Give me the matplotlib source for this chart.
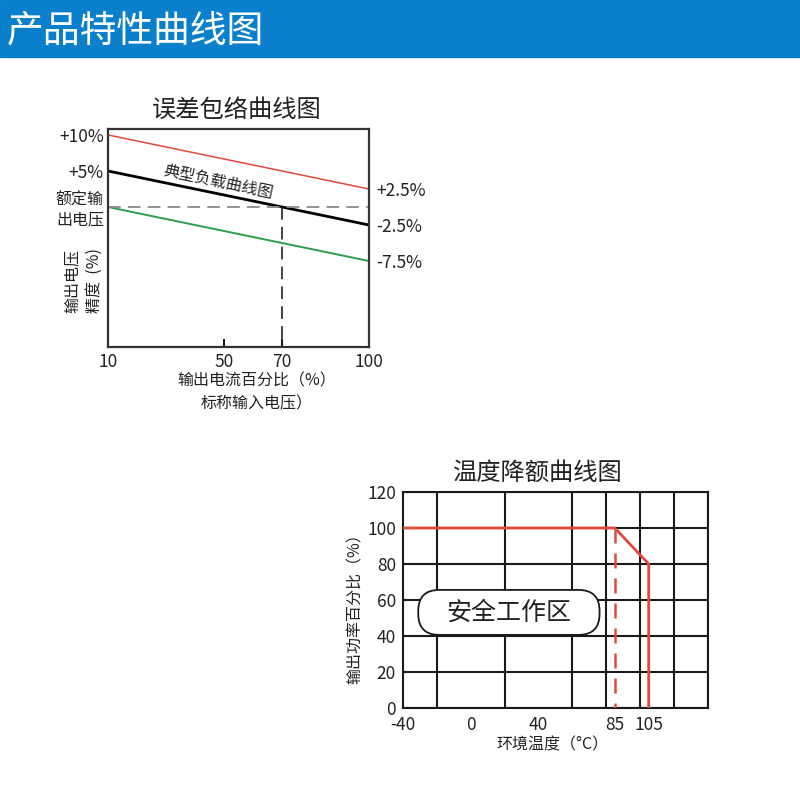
import matplotlib
matplotlib.use('Agg')
import matplotlib.pyplot as plt
from matplotlib.patches import Rectangle, FancyBboxPatch

plt.rcParams['font.family'] = ['Noto Sans CJK SC', 'DejaVu Sans']

# ---- data: 误差包络曲线图 ----
load_x = [10, 100]
upper_y = [10, 2.5]      # red
typical_y = [5, -2.5]    # black
lower_y = [0, -7.5]      # green
rated_x = 70
load_ticks = [10, 50, 70, 100]
left_ticks = [10, 5, 0]
left_labels = ['+10%', '+5%', '额定输\n出电压']
right_ticks = [2.5, -2.5, -7.5]
right_labels = ['+2.5%', '-2.5%', '-7.5%']

# ---- data: 温度降额曲线图 ----
temp_x = [-40, 85, 105, 105]
power_y = [100, 100, 80, 0]
derate_start = 85
temp_ticks = [-40, 0, 40, 85, 105]
grid_x = list(range(-40, 141, 20))
power_ticks = list(range(0, 121, 20))

RED = '#e0493b'
GREEN = '#2e9e4a'
TXT = '#222222'

fig = plt.figure(figsize=(8, 8), dpi=100)

# header bar
fig.patches.append(Rectangle((0, 1 - 57 / 800), 1, 57 / 800,
                             transform=fig.transFigure, color='#0a80cc', zorder=0))
fig.text(7 / 800, 1 - 31 / 800, '产品特性曲线图', color='white', fontsize=26.5,
         va='center', ha='left')

# ---------------- chart 1 ----------------
ax1 = fig.add_axes([108 / 800, 1 - 347 / 800, 261 / 800, 218 / 800])
ax1.set_xlim(10, 100)
ax1.set_ylim(-19.44, 10.83)
ax1.plot(load_x, upper_y, color=RED, lw=1.1)
ax1.plot(load_x, typical_y, color='black', lw=2)
ax1.plot(load_x, lower_y, color=GREEN, lw=1.4)
ax1.axhline(0, color='#8a8a8a', lw=1.3, dashes=(7, 4))
ax1.plot([rated_x, rated_x], [0, -20], color='#333333', lw=1.3, dashes=(7, 4))

for s in ax1.spines.values():
    s.set_color('#333333')
    s.set_linewidth(1.6)

ax1.set_xticks(load_ticks)
ax1.set_xticklabels([str(t) for t in load_ticks])
ax1.tick_params(axis='x', direction='in', length=6, width=1.3, pad=4,
                labelsize=12.5, labelcolor=TXT)
ax1.set_yticks(left_ticks)
ax1.set_yticklabels(left_labels)
ax1.tick_params(axis='y', length=0, pad=3, labelsize=11.5, labelcolor=TXT)
for lab in ax1.get_yticklabels()[:2]:
    lab.set_fontsize(12.5)

ax1r = ax1.twinx()
ax1r.set_ylim(ax1.get_ylim())
ax1r.set_yticks(right_ticks)
ax1r.set_yticklabels(right_labels)
ax1r.tick_params(axis='y', length=0, pad=5, labelsize=12.5, labelcolor=TXT)
for s in ax1r.spines.values():
    s.set_visible(False)

ax1.text(0.494, 1.087, '误差包络曲线图', transform=ax1.transAxes, ha='center',
         va='center', fontsize=17.5, color=TXT)
ax1.text(48, 3.5, '典型负载曲线图', rotation=-12, ha='center', va='center',
         fontsize=11.5, color=TXT)
ax1.text(-0.095, 0.305, '输出电压\n精度  (%)', transform=ax1.transAxes,
         rotation=90, ha='center', va='center', multialignment='left',
         fontsize=11.5, color=TXT, linespacing=1.4)
ax1.text(0.57, -0.118, '输出电流百分比（%）\n标称输入电压）', transform=ax1.transAxes,
         ha='center', va='top', multialignment='center', fontsize=11.5,
         color=TXT, linespacing=1.45)

# ---------------- chart 2 ----------------
ax2 = fig.add_axes([403 / 800, 1 - 708 / 800, 305 / 800, 216 / 800])
ax2.set_xlim(-40, 140)
ax2.set_ylim(0, 120)
ax2.set_xticks(grid_x, minor=True)
ax2.set_xticks(temp_ticks)
ax2.set_xticklabels([str(t) for t in temp_ticks])
ax2.set_yticks(power_ticks)
ax2.set_yticklabels([str(t) for t in power_ticks])
ax2.grid(which='minor', axis='x', color='#1a1a1a', lw=1.5)
ax2.grid(which='major', axis='y', color='#1a1a1a', lw=1.5)
ax2.tick_params(which='both', length=0)
ax2.tick_params(axis='x', pad=6, labelsize=12.5, labelcolor=TXT)
ax2.tick_params(axis='y', pad=5, labelsize=12.5, labelcolor=TXT)
for s in ax2.spines.values():
    s.set_color('#1a1a1a')
    s.set_linewidth(1.5)
ax2.set_axisbelow(True)

ax2.plot(temp_x, power_y, color=RED, lw=2, zorder=4)
ax2.plot([derate_start, derate_start], [power_y[1], 0], color=RED, lw=1.8,
         dashes=(6, 4), zorder=4)

box = FancyBboxPatch((-31, 40.6), 107, 25, boxstyle='round,pad=0,rounding_size=12.4',
                     mutation_aspect=0.94, fc='white', ec='#1a1a1a', lw=1.3, zorder=3)
ax2.add_patch(box)
ax2.text(22.5, 53, '安全工作区', ha='center', va='center', fontsize=18,
         color=TXT, zorder=5)

ax2.text(0.44, 1.088, '温度降额曲线图', transform=ax2.transAxes, ha='center',
         va='center', fontsize=17.5, color=TXT)
ax2.text(-0.157, 0.48, '输出功率百分比（%）', transform=ax2.transAxes, rotation=90,
         ha='center', va='center', fontsize=11.5, color=TXT)
ax2.text(0.49, -0.134, '环境温度（°C）', transform=ax2.transAxes, ha='center',
         va='top', fontsize=11.5, color=TXT)

fig.savefig('out.png', dpi=100)
